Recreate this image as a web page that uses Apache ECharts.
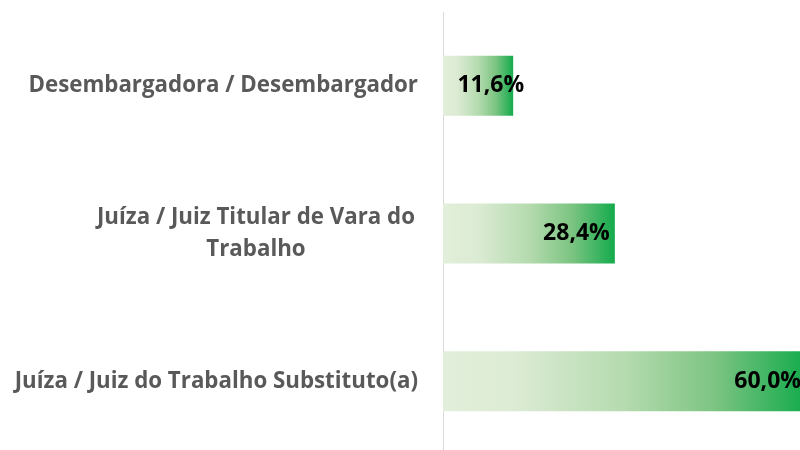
<!DOCTYPE html>
<html>
<head>
<meta charset="utf-8">
<script src="https://cdn.jsdelivr.net/npm/echarts@6/dist/echarts.min.js"></script>
<style>
  html, body { margin: 0; padding: 0; background: #fff; }
  #chart { width: 800px; height: 450px; }
</style>
</head>
<body>
<div id="chart"></div>
<script>
// dados do gráfico
const categorias = [
  "Desembargadora / Desembargador",
  "Juíza / Juiz Titular de Vara do\nTrabalho",
  "Juíza / Juiz do Trabalho Substituto(a)"
];
const percentuais = [11.6, 28.4, 60.0];

let chart = echarts.init(document.getElementById("chart"));

// gradiente horizontal claro -> verde
const gradiente = new echarts.graphic.LinearGradient(0, 0, 1, 0, [
  { offset: 0, color: "#e2efda" },
  { offset: 0.2, color: "#dcebd4" },
  { offset: 0.5, color: "#b5dbaf" },
  { offset: 0.75, color: "#7cc482" },
  { offset: 1, color: "#14ab4c" }
]);

let option = {
  animation: false,
  // a última barra passa da borda direita, como no original
  grid: {
    left: 443, right: 0, top: 12, height: 443,
    containLabel: false, outerBoundsMode: "none"
  },
  xAxis: {
    type: "value",
    min: 0,
    max: 59,
    show: false
  },
  yAxis: {
    type: "category",
    inverse: true,
    data: categorias,
    axisLine: { show: true, lineStyle: { color: "#d9d9d9", width: 1 } },
    axisTick: { show: false },
    axisLabel: {
      margin: 25,
      color: "#595959",
      fontFamily: "Open Sans",
      fontWeight: "bold",
      fontSize: 22.3,
      lineHeight: 32,
      formatter: function (v) {
        if (v.indexOf("\n") >= 0) {
          return v.split("\n").map(l => "{c|" + l + "}").join("\n");
        }
        return v;
      },
      rich: {
        c: {
          width: 324,
          align: "center",
          color: "#595959",
          fontFamily: "Open Sans",
          fontWeight: "bold",
          fontSize: 22.3,
          lineHeight: 32
        }
      }
    }
  },
  series: [
    {
      type: "bar",
      barWidth: 60,
      clip: false,
      data: percentuais.map((v, i) => ({
        value: v,
        label: i === 0 ? { offset: [16, 0] } : {}
      })),
      itemStyle: { color: gradiente },
      label: {
        show: true,
        position: "insideRight",
        distance: 5,
        color: "#000",
        fontFamily: "Open Sans",
        fontWeight: "bold",
        fontSize: 23,
        formatter: p => p.value.toFixed(1).replace(".", ",") + "%"
      }
    }
  ]
};

chart.setOption(option);
</script>
</body>
</html>
